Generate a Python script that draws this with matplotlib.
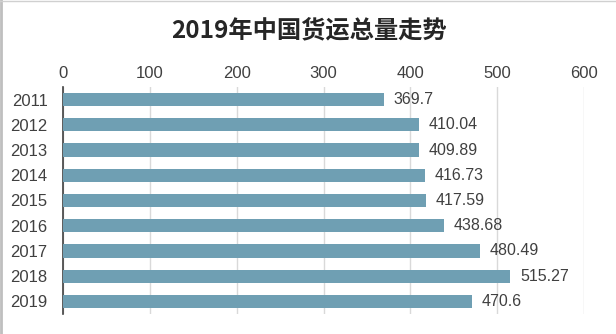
import matplotlib
matplotlib.use("Agg")
import matplotlib.pyplot as plt

years = ["2011", "2012", "2013", "2014", "2015", "2016", "2017", "2018", "2019"]
values = [369.7, 410.04, 409.89, 416.73, 417.59, 438.68, 480.49, 515.27, 470.6]
labels = ["369.7", "410.04", "409.89", "416.73", "417.59", "438.68", "480.49", "515.27", "470.6"]
xticks = [0, 100, 200, 300, 400, 500, 600]
title = "2019年中国货运总量走势"

plt.rcParams['font.family'] = ['Liberation Sans', 'Noto Sans CJK SC', 'DejaVu Sans']

fig = plt.figure(figsize=(6.16, 3.34), dpi=100)
ax = fig.add_axes([63/616, 1-314/334, (584-63)/616, (314-87)/334])

ypos = list(range(len(years)))
ax.barh(ypos, values, height=0.52, color='#6f9fb3', zorder=3)
for y, v, l in zip(ypos, values, labels):
    ax.text(v + 11, y, l, va='center', ha='left', fontsize=11.5, color='#404040', zorder=4)

ax.set_xlim(0, 600)
ax.set_ylim(len(years) - 0.5, -0.5)
ax.set_xticks(xticks)
ax.set_yticks(ypos)
ax.set_yticklabels(years)
ax.xaxis.tick_top()
ax.tick_params(axis='x', length=0, labelsize=12, labelcolor='#404040', pad=4)
ax.tick_params(axis='y', length=0, labelsize=12, labelcolor='#404040', pad=11)
ax.grid(axis='x', color='#d9d9d9', linewidth=1, zorder=0)
for s in ['top', 'right', 'bottom']:
    ax.spines[s].set_visible(False)
ax.spines['left'].set_color('#404040')
ax.spines['left'].set_linewidth(1.2)

fig.text(309/616, 1-30/334, title, ha='center', va='center', fontsize=17.5,
         fontweight='bold', family=['Noto Sans CJK SC', 'DejaVu Sans'], color='#262626')

# frame border on left/top
fig.add_artist(plt.Line2D([0.002, 0.002], [0, 1], color='#bfbfbf', linewidth=2, transform=fig.transFigure))
fig.add_artist(plt.Line2D([0, 1], [0.997, 0.997], color='#d0d0d0', linewidth=1, transform=fig.transFigure))

fig.savefig("out.png", dpi=100)
